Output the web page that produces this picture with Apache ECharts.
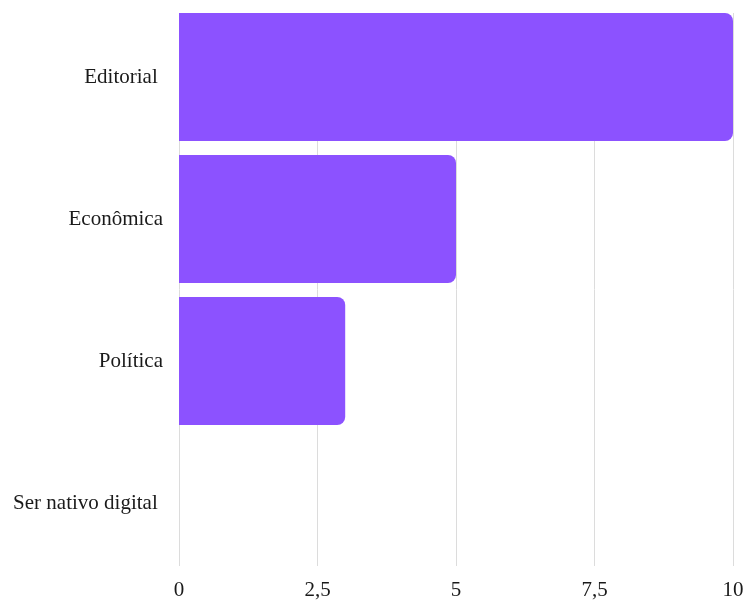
<!DOCTYPE html>
<html>
<head>
<meta charset="utf-8">
<script src="https://cdn.jsdelivr.net/npm/echarts@6/dist/echarts.min.js"></script>
<style>
  html, body { margin: 0; padding: 0; background: #fff; }
  #chart { width: 747px; height: 601px; }
</style>
</head>
<body>
<div id="chart"></div>
<script>
// data
const categories = ['Editorial ', 'Econômica', 'Política', 'Ser nativo digital '];
const values = [10, 5, 3, 0];
const xTicks = [0, 2.5, 5, 7.5, 10];

const FONT = 'Liberation Serif';
const chart = echarts.init(document.getElementById('chart'));

chart.setOption({
  animation: false,
  // grid 0 holds the gridlines and tick labels, grid 1 the bars (bands run a little past the lines)
  grid: [
    {left: 179, right: 14, top: 13, bottom: 34},
    {left: 179, right: 14, top: 6, bottom: 27}
  ],
  xAxis: [
    {
      gridIndex: 0, type: 'value', min: xTicks[0], max: xTicks[xTicks.length - 1], interval: 2.5,
      axisLine: {show: false}, axisTick: {show: false},
      splitLine: {show: true, lineStyle: {color: '#dcdcdc', width: 1}},
      axisLabel: {
        margin: 14, fontFamily: FONT, fontSize: 21, color: '#1a1a1a',
        formatter: v => String(v).replace('.', ',')
      }
    },
    {
      gridIndex: 1, type: 'value', min: 0, max: 10, show: false
    }
  ],
  yAxis: [
    {
      gridIndex: 1, type: 'category', data: categories, inverse: true,
      axisLine: {show: false}, axisTick: {show: false}, splitLine: {show: false},
      axisLabel: {margin: 16, fontFamily: FONT, fontSize: 21, color: '#1a1a1a'}
    },
    {gridIndex: 0, type: 'value', show: false}
  ],
  series: [{
    type: 'bar',
    xAxisIndex: 1,
    yAxisIndex: 0,
    data: values,
    barCategoryGap: '9.86%',
    itemStyle: {color: '#8c52ff', borderRadius: [0, 8, 8, 0]}
  }]
});
</script>
</body>
</html>
